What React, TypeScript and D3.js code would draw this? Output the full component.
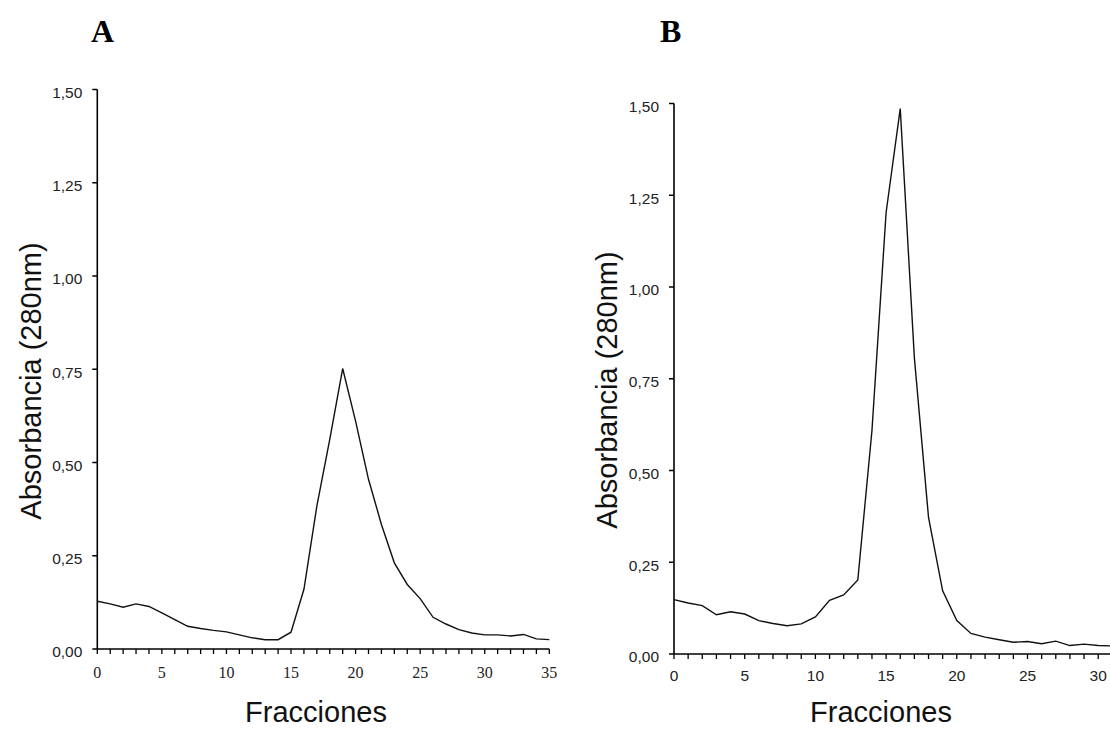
import React from "react";
import * as d3 from "d3";

// Panel A
const fraccionesA = [0,1,2,3,4,5,6,7,8,9,10,11,12,13,14,15,16,17,18,19,20,21,22,23,24,25,26,27,28,29,30,31,32,33,34,35];
const absorbanciaA = [0.128,0.121,0.112,0.121,0.114,0.097,0.079,0.061,0.055,0.050,0.046,0.038,0.030,0.025,0.025,0.045,0.160,0.383,0.562,0.752,0.611,0.455,0.334,0.231,0.173,0.135,0.085,0.067,0.052,0.043,0.038,0.038,0.035,0.039,0.027,0.025];
const xTicksA = [0,5,10,15,20,25,30,35];

// Panel B
const fraccionesB = [0,1,2,3,4,5,6,7,8,9,10,11,12,13,14,15,16,17,18,19,20,21,22,23,24,25,26,27,28,29,30,31];
const absorbanciaB = [0.148,0.139,0.132,0.107,0.115,0.109,0.091,0.083,0.077,0.082,0.101,0.146,0.161,0.202,0.609,1.203,1.486,0.807,0.372,0.172,0.091,0.056,0.046,0.039,0.032,0.034,0.028,0.035,0.023,0.027,0.023,0.022];
const xTicksB = [0,5,10,15,20,25,30];

const yTicks = [0,0.25,0.5,0.75,1.0,1.25,1.5];
const fmt = (v: number) => v.toFixed(2).replace(".", ",");

type PanelProps = {
  fr: number[]; ab: number[]; xTicks: number[]; minorMax: number;
  x0: number; x1: number; xMax: number; axisEnd: number;
  y0: number; y1: number; serifX: boolean; xLabBase: number;
  letter: string; letterX: number; yTitleX: number; yTitleY: number; xTitleX: number;
};

function Panel(p: PanelProps) {
  const x = d3.scaleLinear().domain([0, p.xMax]).range([p.x0, p.x1]);
  const y = d3.scaleLinear().domain([0, 1.5]).range([p.y0, p.y1]);
  const line = d3.line<number>().x((_, i) => x(p.fr[i])).y((d) => y(d));
  const minor = d3.range(0, p.minorMax + 1);
  return (
    <g>
      <text x={p.letterX} y={42} fontFamily="Liberation Serif, Times New Roman, serif" fontWeight="bold" fontSize={32} fill="#000">{p.letter}</text>
      {/* y axis */}
      <line x1={p.x0} x2={p.x0} y1={y(1.5)} y2={p.y0} stroke="#000" strokeWidth={1.6} />
      {yTicks.map((t) => (
        <g key={t}>
          <line x1={p.x0 - 5} x2={p.x0} y1={y(t)} y2={y(t)} stroke="#000" strokeWidth={1.5} />
          <text x={p.x0 - 15} y={y(t) + 3} dy="0.35em" textAnchor="end" fontFamily="Liberation Sans, Arial, sans-serif" fontSize={15.5} fill="#222">{fmt(t)}</text>
        </g>
      ))}
      {/* x axis */}
      <line x1={p.x0} x2={p.axisEnd} y1={p.y0} y2={p.y0} stroke="#000" strokeWidth={1.6} />
      {minor.map((t) => (
        <line key={t} x1={x(t)} x2={x(t)} y1={p.y0} y2={p.y0 + 5} stroke="#000" strokeWidth={1.3} />
      ))}
      {p.xTicks.map((t) => (
        <text key={t} x={x(t)} y={p.xLabBase} textAnchor="middle"
          fontFamily={p.serifX ? "Liberation Serif, Times New Roman, serif" : "Liberation Sans, Arial, sans-serif"}
          fontSize={p.serifX ? 16 : 15.5} fill="#222">{t}</text>
      ))}
      <path d={line(p.ab) || ""} fill="none" stroke="#111" strokeWidth={1.4} strokeLinejoin="miter" />
      <text transform={`translate(${p.yTitleX},${p.yTitleY}) rotate(-90)`} textAnchor="middle" dy="0.35em"
        fontFamily="Liberation Sans, Arial, sans-serif" fontSize={29} fill="#111">Absorbancia (280nm)</text>
      <text x={p.xTitleX} y={722} textAnchor="middle" fontFamily="Liberation Sans, Arial, sans-serif" fontSize={29} fill="#111">Fracciones</text>
    </g>
  );
}

export default function App() {
  return (
    <svg width={1110} height={729} style={{ position: "absolute", left: 0, top: 0, background: "#fff" }}>
      <rect width={1110} height={729} fill="#fff" />
      <Panel fr={fraccionesA} ab={absorbanciaA} xTicks={xTicksA} minorMax={35}
        x0={97.3} x1={549.3} xMax={35} axisEnd={549.3} y0={649} y1={89.5} serifX={true} xLabBase={678}
        letter="A" letterX={91} yTitleX={31} yTitleY={381} xTitleX={316} />
      <Panel fr={fraccionesB} ab={absorbanciaB} xTicks={xTicksB} minorMax={31}
        x0={674} x1={1098.2} xMax={30} axisEnd={1112} y0={654} y1={103.5} serifX={false} xLabBase={681}
        letter="B" letterX={660} yTitleX={607} yTitleY={390} xTitleX={881} />
    </svg>
  );
}
